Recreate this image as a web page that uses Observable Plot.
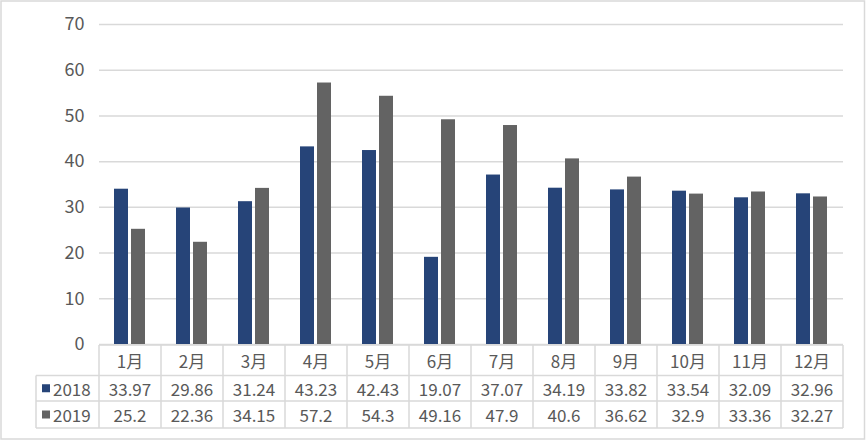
<!DOCTYPE html>
<html>
<head>
<meta charset="utf-8">
<script src="https://cdn.jsdelivr.net/npm/d3@7"></script>
<script src="https://cdn.jsdelivr.net/npm/@observablehq/plot@0.6"></script>
<style>
  html, body { margin: 0; padding: 0; background: #fff; }
  svg { display: block; }
</style>
</head>
<body>
<div id="chart"></div>
<script>
const months = ["1月","2月","3月","4月","5月","6月","7月","8月","9月","10月","11月","12月"];
const seriesNames = ["2018", "2019"];
const values2018 = [33.97, 29.86, 31.24, 43.23, 42.43, 19.07, 37.07, 34.19, 33.82, 33.54, 32.09, 32.96];
const values2019 = [25.2, 22.36, 34.15, 57.2, 54.3, 49.16, 47.9, 40.6, 36.62, 32.9, 33.36, 32.27];
const yTicks = [0, 10, 20, 30, 40, 50, 60, 70];
const colors = ["#264478", "#636363"];

const data2018 = months.map((m, i) => ({month: m, year: seriesNames[0], value: values2018[i]}));
const data2019 = months.map((m, i) => ({month: m, year: seriesNames[1], value: values2019[i]}));

const W = 866, H = 441;
const font = "'Noto Sans CJK SC', 'Noto Sans', sans-serif";
const textColor = "#595959";
const lineColor = "#d9d9d9";

const chart = Plot.plot({
  width: W,
  height: H,
  marginLeft: 99,
  marginRight: 23,
  marginTop: 24,
  marginBottom: 97,
  style: {fontFamily: font, fontSize: "18px", color: textColor, background: "#fff"},
  x: {domain: months, padding: 0, axis: null},
  y: {domain: [0, 70], ticks: yTicks, tickSize: 0, tickPadding: 15, label: null, tickFormat: d => String(d)},
  marks: [
    Plot.ruleY(yTicks, {stroke: lineColor, strokeWidth: 1.5}),
    Plot.barY(data2018, {x: "month", y: "value", fill: colors[0], insetLeft: 15, insetRight: 33}),
    Plot.barY(data2019, {x: "month", y: "value", fill: colors[1], insetLeft: 32, insetRight: 16})
  ]
});

document.getElementById("chart").appendChild(chart);

// Data table below the plot, aligned with the x scale
const svg = d3.select(chart);
const xs = chart.scale("x");
const bw = xs.bandwidth;
const x0 = xs.range[0], x1 = xs.range[1];
const legendLeft = 36;
const rowY = [345, 375.5, 401, 428];

const g = svg.append("g").attr("font-family", font).attr("fill", textColor).attr("text-anchor", "start");
const lines = g.append("g").attr("stroke", lineColor).attr("stroke-width", 1.5);

// horizontal lines
lines.append("line").attr("x1", x0).attr("x2", x1).attr("y1", rowY[0]).attr("y2", rowY[0]);
for (let r = 1; r < rowY.length; r++) {
  lines.append("line").attr("x1", legendLeft).attr("x2", x1).attr("y1", rowY[r]).attr("y2", rowY[r]);
}
// vertical lines
lines.append("line").attr("x1", legendLeft).attr("x2", legendLeft).attr("y1", rowY[1]).attr("y2", rowY[3]);
months.forEach((m) => {
  const xl = xs.apply(m);
  lines.append("line").attr("x1", xl).attr("x2", xl).attr("y1", rowY[0]).attr("y2", rowY[3]);
});
lines.append("line").attr("x1", x1).attr("x2", x1).attr("y1", rowY[0]).attr("y2", rowY[3]);

// header row
months.forEach((m) => {
  g.append("text")
    .attr("x", xs.apply(m) + bw / 2)
    .attr("y", (rowY[0] + rowY[1]) / 2)
    .attr("text-anchor", "middle").attr("dominant-baseline", "central")
    .attr("font-size", 17)
    .text(m);
});

// series rows
[values2018, values2019].forEach((vals, s) => {
  const cy = (rowY[s + 1] + rowY[s + 2]) / 2;
  g.append("rect").attr("x", 42).attr("y", cy - 4).attr("width", 8).attr("height", 8).attr("fill", colors[s]);
  g.append("text").attr("x", 53).attr("y", cy)
    .attr("text-anchor", "start")
    .attr("dominant-baseline", "central").attr("font-size", 17).text(seriesNames[s]);
  months.forEach((m, i) => {
    g.append("text")
      .attr("x", xs.apply(m) + bw / 2)
      .attr("y", cy)
      .attr("text-anchor", "middle").attr("dominant-baseline", "central")
      .attr("font-size", 17)
      .text(String(vals[i]));
  });
});

// outer border
svg.append("rect").attr("x", 1).attr("y", 1).attr("width", W - 2.5).attr("height", H - 3)
  .attr("fill", "none").attr("stroke", lineColor).attr("stroke-width", 1.5);
</script>
</body>
</html>
